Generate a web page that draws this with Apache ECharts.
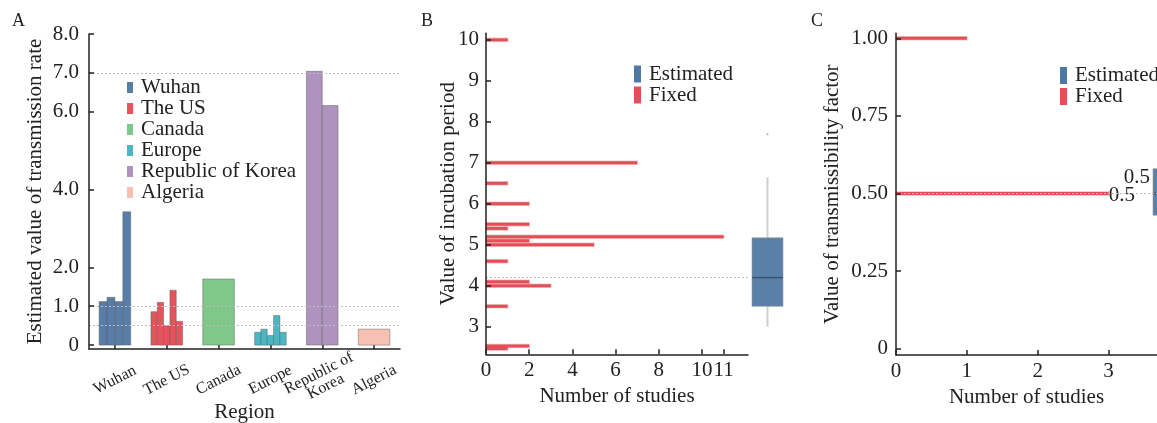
<!DOCTYPE html>
<html>
<head>
<meta charset="utf-8">
<script src="https://cdn.jsdelivr.net/npm/echarts@6.0.0/dist/echarts.min.js"></script>
<style>
  html, body { margin: 0; padding: 0; background: #fff; }
  #chart { width: 1157px; height: 423px; }
</style>
</head>
<body>
<div id="chart"></div>
<script>
// A: transmission rate per region (one bar per study)
const regions = ['Wuhan', 'The US', 'Canada', 'Europe', 'Republic of Korea', 'Algeria']
const wuhanRates = [1.12, 1.23, 1.12, 3.43]
const usRates = [0.86, 1.1, 0.5, 1.41, 0.61]
const canadaRates = [1.7]
const europeRates = [0.33, 0.41, 0.25, 0.76, 0.33]
const koreaRates = [7.04, 6.16]
const algeriaRates = [0.41]
const rateTicks = [0, 0.5, 1, 2, 4, 6, 7, 8]
const rateRefLines = [0.5, 1, 7]

// B: incubation period
const incubValues = [10, 7, 6.5, 6, 5.5, 5.4, 5.2, 5.1, 5.0, 4.6, 4.1, 4.0, 3.5, 2.53, 2.47]
const incubCounts = [1, 7, 1, 2, 2, 1, 11, 2, 5, 1, 2, 3, 1, 2, 1]
const incubBox = [3.0, 3.5, 4.2, 5.17, 6.65] // min, q1, median, q3, max
const incubOutliers = [7.7]
const incubTicks = [3, 4, 5, 6, 7, 8, 9, 10]
const studyTicksB = [0, 2, 4, 6, 8, 10, 11]

// C: transmissibility factor
const factorValues = [1.0, 0.5]
const factorCounts = [1, 3]
const factorBox = [0.43, 0.43, 0.5, 0.58, 0.58]
const factorTicks = [0, 0.25, 0.5, 0.75, 1]
const studyTicksC = [0, 1, 2, 3]

const regionColors = ['#587ea7', '#e5535b', '#80c78a', '#4bb6c4', '#ad93bd', '#f7c0b1']
const RED = '#e34f59'
const BLUE = '#5b80a8'
const FONT = '"Liberation Serif", "DejaVu Serif", serif'
const INK = '#222'

const chart = echarts.init(document.getElementById('chart'))

function regionBars(color) {
  return function(params, api) {
    const cat = api.value(0)
    const k = api.value(1)
    const n = api.value(2)
    const base = api.coord([cat, 0])
    const top = api.coord([cat, api.value(3)])
    const gw = api.size([1, 0])[0] * 0.61
    const w = gw / n
    return {
      type: 'rect',
      shape: { x: base[0] - gw / 2 + k * w, y: top[1], width: w, height: base[1] - top[1] },
      style: { fill: color, stroke: 'rgba(90,90,90,0.45)', lineWidth: 1 }
    }
  }
}

function hbar(params, api) {
  const p0 = api.coord([0, api.value(1)])
  const p1 = api.coord([api.value(0), api.value(1)])
  return {
    type: 'rect',
    shape: { x: p0[0], y: p0[1] - 1.5, width: p1[0] - p0[0], height: 3 },
    style: { fill: RED, stroke: 'rgba(227,79,89,0.35)', lineWidth: 1.5 }
  }
}

function boxRender(withLabels) {
  return function(params, api) {
    const c = api.coord([0, api.value(3)])
    const w = api.size([1, 0])[0]
    const x = c[0]
    const yLo = api.coord([0, api.value(1)])[1]
    const yQ1 = api.coord([0, api.value(2)])[1]
    const yQ3 = api.coord([0, api.value(4)])[1]
    const yHi = api.coord([0, api.value(5)])[1]
    const kids = [
      { type: 'line', shape: { x1: x, y1: yHi, x2: x, y2: yQ3 }, style: { stroke: '#cfcfcf', lineWidth: 2 } },
      { type: 'line', shape: { x1: x, y1: yQ1, x2: x, y2: yLo }, style: { stroke: '#cfcfcf', lineWidth: 2 } },
      { type: 'rect', shape: { x: x - w / 2, y: yQ3, width: w, height: yQ1 - yQ3 },
        style: { fill: BLUE, stroke: 'rgba(150,150,150,0.6)', lineWidth: 1 } },
      { type: 'line', shape: { x1: x - w / 2, y1: c[1], x2: x + w / 2, y2: c[1] }, style: { stroke: '#3b536d', lineWidth: 1.5 } }
    ]
    if (withLabels) {
      const txt = String(api.value(3))
      kids.push({ type: 'text', style: { text: txt, x: x - w / 2 - 3, y: yQ3 + 9, align: 'right', verticalAlign: 'middle', font: '21px ' + FONT, fill: INK } })
      kids.push({ type: 'text', style: { text: txt, x: x - w / 2 - 18, y: c[1] + 2, align: 'right', verticalAlign: 'middle', font: '21px ' + FONT, fill: INK } })
    }
    return { type: 'group', children: kids }
  }
}

const regionData = [wuhanRates, usRates, canadaRates, europeRates, koreaRates, algeriaRates]
const series = regionData.map((vals, i) => ({
  name: regions[i],
  type: 'custom',
  xAxisIndex: 0,
  yAxisIndex: 0,
  renderItem: regionBars(regionColors[i]),
  itemStyle: { color: regionColors[i] },
  encode: { x: 0, y: 3 },
  data: vals.map((v, k) => [i, k, vals.length, v]),
  z: 3
}))
series.push({
  type: 'line', xAxisIndex: 0, yAxisIndex: 0, data: [], silent: true,
  markLine: { symbol: 'none', silent: true, label: { show: false },
    lineStyle: { color: '#bdbdbd', type: [2, 2], width: 1 },
    data: rateRefLines.map(v => ({ yAxis: v })) },
  z: 1
})

series.push({
  name: 'Fixed', type: 'custom', xAxisIndex: 1, yAxisIndex: 1,
  renderItem: hbar, itemStyle: { color: RED }, encode: { x: 0, y: 1 },
  data: incubCounts.map((c, i) => [c, incubValues[i]]),
  markLine: { symbol: 'none', silent: true, label: { show: false },
    lineStyle: { color: '#bdbdbd', type: [2, 2], width: 1 },
    data: [{ yAxis: incubBox[2] }] },
  z: 3
})
series.push({
  name: 'Estimated', type: 'custom', xAxisIndex: 2, yAxisIndex: 2,
  renderItem: boxRender(false), itemStyle: { color: '#4f77a3' },
  encode: { x: 0, y: [1, 2, 3, 4, 5] },
  data: [[0].concat(incubBox)]
})
series.push({
  type: 'scatter', xAxisIndex: 2, yAxisIndex: 2, symbolSize: 2,
  itemStyle: { color: '#999' }, data: incubOutliers.map(v => [0, v])
})

series.push({
  name: 'Fixed', type: 'custom', xAxisIndex: 3, yAxisIndex: 3,
  renderItem: hbar, itemStyle: { color: RED }, encode: { x: 0, y: 1 },
  data: factorCounts.map((c, i) => [c, factorValues[i]]),
  markLine: { symbol: 'none', silent: true, label: { show: false },
    lineStyle: { color: '#bdbdbd', type: [2, 2], width: 1 },
    data: [{ yAxis: factorBox[2] }] },
  z: 3
})
series.push({
  name: 'Estimated', type: 'custom', xAxisIndex: 4, yAxisIndex: 4,
  renderItem: boxRender(true), itemStyle: { color: '#4f77a3' },
  encode: { x: 0, y: [1, 2, 3, 4, 5] },
  data: [[0].concat(factorBox)],
  z: 4
})

const axisLine = { show: true, onZero: false, lineStyle: { color: INK, width: 1.5 } }
const tickStyle = { show: true, inside: true, length: 5, lineStyle: { color: INK, width: 1.5 } }
const labelFont = { fontFamily: FONT, fontSize: 21, color: INK, showMinLabel: true, showMaxLabel: true }
const nameFont = { fontFamily: FONT, fontSize: 21, color: INK }
const hidden = { show: false }
const legendText = { fontFamily: FONT, fontSize: 21, color: INK, lineHeight: 20.6, padding: [0, 0, 0, 3] }

chart.setOption({
  animation: false,
  title: [
    { text: 'A', left: 12, top: 12, padding: 0, textStyle: { fontFamily: FONT, fontSize: 18, fontWeight: 'normal', color: INK } },
    { text: 'B', left: 421, top: 12, padding: 0, textStyle: { fontFamily: FONT, fontSize: 18, fontWeight: 'normal', color: INK } },
    { text: 'C', left: 811, top: 12, padding: 0, textStyle: { fontFamily: FONT, fontSize: 18, fontWeight: 'normal', color: INK } }
  ],
  legend: [
    { data: regions, orient: 'vertical', left: 127, top: 77, padding: 0, itemGap: 0, itemWidth: 6, itemHeight: 11,
      icon: 'rect', textStyle: legendText },
    { data: ['Estimated', 'Fixed'], orient: 'vertical', left: 634, top: 63.5, padding: 0, itemGap: 0, itemWidth: 7, itemHeight: 17,
      icon: 'rect', textStyle: legendText },
    { data: ['Estimated', 'Fixed'], orient: 'vertical', left: 1060, top: 65, padding: 0, itemGap: 0, itemWidth: 7, itemHeight: 17,
      icon: 'rect', textStyle: legendText }
  ],
  grid: [
    { left: 89, top: 34, width: 311, height: 315, outerBoundsMode: 'none' },
    { left: 486, top: 33.3, width: 262, height: 321, outerBoundsMode: 'none' },
    { left: 752, top: 33.3, width: 31, height: 321, outerBoundsMode: 'none' },
    { left: 896, top: 33.3, width: 261, height: 321.7, outerBoundsMode: 'none' },
    { left: 1153, top: 33.3, width: 31, height: 321.7, outerBoundsMode: 'none' }
  ],
  xAxis: [
    { gridIndex: 0, type: 'category', data: regions, name: 'Region', nameLocation: 'middle', nameGap: 53, nameMoveOverlap: false,
      nameTextStyle: nameFont, axisLine: axisLine,
      axisTick: Object.assign({}, tickStyle, { alignWithLabel: true, length: 4 }),
      axisLabel: { interval: 0, rotate: 27, align: 'center', verticalAlign: 'middle', margin: 31,
        fontFamily: FONT, fontSize: 16, lineHeight: 15, color: INK,
        formatter: v => v.replace(' of ', ' of\n') } },
    { gridIndex: 1, type: 'value', min: 0, max: 12.13, name: 'Number of studies', nameLocation: 'middle', nameGap: 32, nameMoveOverlap: false,
      nameTextStyle: nameFont, axisLine: axisLine, splitLine: hidden,
      axisTick: Object.assign({ customValues: studyTicksB }, tickStyle),
      axisLabel: Object.assign({ customValues: studyTicksB, margin: 6 }, labelFont) },
    { gridIndex: 2, type: 'category', data: ['Estimated'], show: false },
    { gridIndex: 3, type: 'value', min: 0, max: 3.683, name: 'Number of studies', nameLocation: 'middle', nameGap: 32, nameMoveOverlap: false,
      nameTextStyle: nameFont, axisLine: axisLine, splitLine: hidden,
      axisTick: Object.assign({ customValues: studyTicksC }, tickStyle),
      axisLabel: Object.assign({ customValues: studyTicksC, margin: 6 }, labelFont) },
    { gridIndex: 4, type: 'category', data: ['Estimated'], show: false }
  ],
  yAxis: [
    { gridIndex: 0, type: 'value', min: -0.1, max: 8, name: 'Estimated value of transmission rate', nameLocation: 'middle', nameGap: 43, nameMoveOverlap: false,
      nameTextStyle: nameFont, axisLine: axisLine, splitLine: hidden, z: 10,
      axisTick: Object.assign({ customValues: rateTicks }, tickStyle),
      axisLabel: Object.assign({ customValues: rateTicks, margin: 10, formatter: v => v === 0 ? '0' : v.toFixed(1) }, labelFont) },
    { gridIndex: 1, type: 'value', min: 2.33, max: 10.16, name: 'Value of incubation period', nameLocation: 'middle', nameGap: 27, nameMoveOverlap: false,
      nameTextStyle: nameFont, axisLine: axisLine, splitLine: hidden, z: 10,
      axisTick: Object.assign({ customValues: incubTicks }, tickStyle),
      axisLabel: Object.assign({ customValues: incubTicks, margin: 7 }, labelFont) },
    { gridIndex: 2, type: 'value', min: 2.33, max: 10.16, show: false, splitLine: hidden },
    { gridIndex: 3, type: 'value', min: -0.02, max: 1.016, name: 'Value of transmissibility factor', nameLocation: 'middle', nameGap: 53, nameMoveOverlap: false,
      nameTextStyle: nameFont, axisLine: axisLine, splitLine: hidden, z: 10,
      axisTick: Object.assign({ customValues: factorTicks }, tickStyle),
      axisLabel: Object.assign({ customValues: factorTicks, margin: 8, formatter: v => v === 0 ? '0' : v.toFixed(2) }, labelFont) },
    { gridIndex: 4, type: 'value', min: -0.02, max: 1.016, show: false, splitLine: hidden }
  ],
  series: series
})
</script>
</body>
</html>
